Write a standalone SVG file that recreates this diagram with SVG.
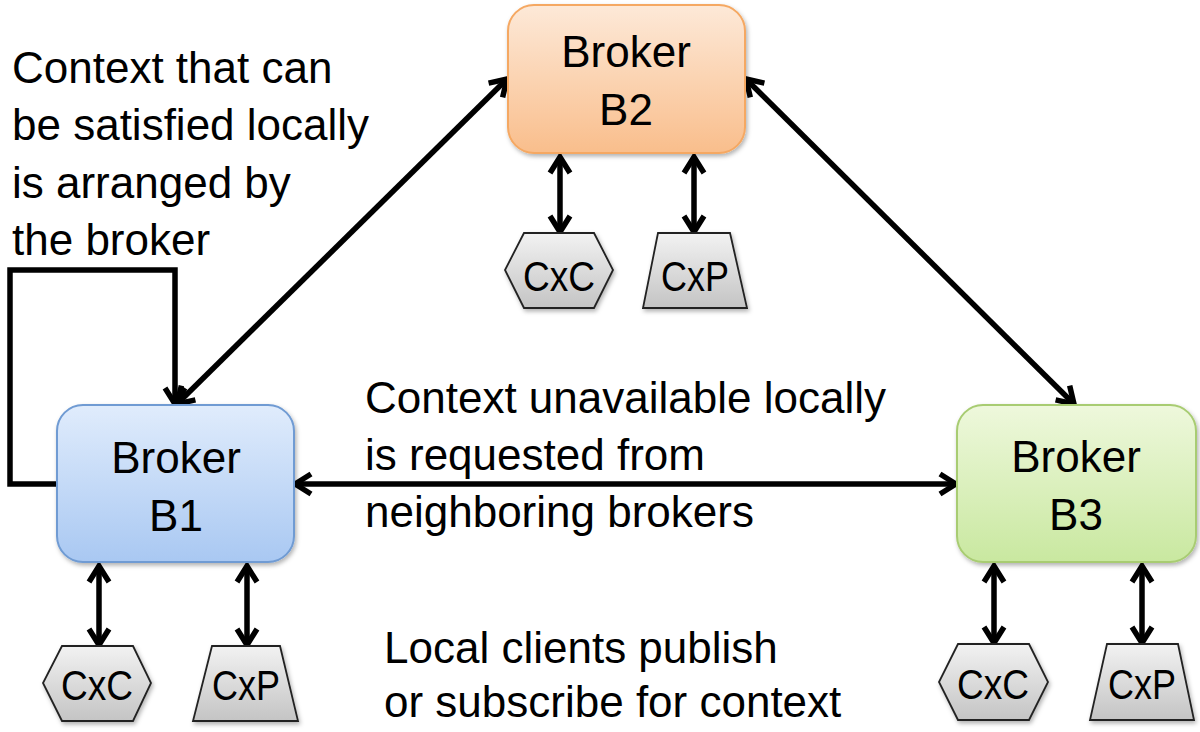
<svg xmlns="http://www.w3.org/2000/svg" width="1200" height="732" viewBox="0 0 1200 732">
<style>
  text { font-family: "Liberation Sans", Arial, sans-serif; fill: #000; }
  .lbl { font-size: 44px; }
  .bk { font-size: 44px; text-anchor: middle; }
  .cl { font-size: 42px; text-anchor: middle; }
  .conn { fill: none; stroke: #000; stroke-width: 5.5; }
  .client { fill: url(#gGray); stroke: #222; stroke-width: 1.8; stroke-linejoin: miter; }
</style>
<defs>
  <marker id="arr" viewBox="0 0 26 26" markerWidth="26" markerHeight="26" refX="21" refY="13" orient="auto-start-reverse" markerUnits="userSpaceOnUse">
    <path d="M5,3 L21,13 L5,23" fill="none" stroke="#000" stroke-width="5.5" stroke-linejoin="miter"/>
  </marker>
  <linearGradient id="gBlue" x1="0" y1="0" x2="0" y2="1">
    <stop offset="0" stop-color="#e0ecfc"/>
    <stop offset="1" stop-color="#a9c8f2"/>
  </linearGradient>
  <linearGradient id="gOrange" x1="0" y1="0" x2="0" y2="1">
    <stop offset="0" stop-color="#fde9d8"/>
    <stop offset="1" stop-color="#f9be8c"/>
  </linearGradient>
  <linearGradient id="gGreen" x1="0" y1="0" x2="0" y2="1">
    <stop offset="0" stop-color="#eef8dc"/>
    <stop offset="1" stop-color="#c9e8a0"/>
  </linearGradient>
  <linearGradient id="gGray" x1="0" y1="0" x2="0" y2="1">
    <stop offset="0" stop-color="#f2f2f2"/>
    <stop offset="1" stop-color="#c4c4c4"/>
  </linearGradient>
  <filter id="sh" x="-10%" y="-10%" width="130%" height="130%">
    <feDropShadow dx="1.5" dy="2.5" stdDeviation="2" flood-color="#000" flood-opacity="0.3"/>
  </filter>
</defs>
<rect width="1200" height="732" fill="#fff"/>

<g id="connectors">
  <line class="conn" x1="177" y1="404" x2="507" y2="79" marker-start="url(#arr)" marker-end="url(#arr)"/>
  <line class="conn" x1="746" y1="79" x2="1074" y2="404" marker-start="url(#arr)" marker-end="url(#arr)"/>
  <line class="conn" x1="295" y1="484" x2="956" y2="484" marker-start="url(#arr)" marker-end="url(#arr)"/>
  <path class="conn" d="M57,484 H10 V270 H175 V404" marker-end="url(#arr)"/>
  <line class="conn" x1="99" y1="566" x2="99" y2="645" marker-start="url(#arr)" marker-end="url(#arr)"/>
  <line class="conn" x1="247" y1="566" x2="247" y2="645" marker-start="url(#arr)" marker-end="url(#arr)"/>
  <line class="conn" x1="560" y1="157" x2="560" y2="232" marker-start="url(#arr)" marker-end="url(#arr)"/>
  <line class="conn" x1="694" y1="157" x2="694" y2="232" marker-start="url(#arr)" marker-end="url(#arr)"/>
  <line class="conn" x1="994" y1="566" x2="994" y2="643" marker-start="url(#arr)" marker-end="url(#arr)"/>
  <line class="conn" x1="1142" y1="566" x2="1142" y2="643" marker-start="url(#arr)" marker-end="url(#arr)"/>
</g>

<g id="broker-b1">
  <rect x="57" y="405" width="237" height="157" rx="26" fill="url(#gBlue)" stroke="#6f9bd3" stroke-width="2" filter="url(#sh)"/>
  <text class="bk" x="176" y="473">Broker</text>
  <text class="bk" x="176" y="531">B1</text>
</g>
<g id="broker-b2">
  <rect x="508" y="5" width="237" height="148" rx="26" fill="url(#gOrange)" stroke="#f5a862" stroke-width="2" filter="url(#sh)"/>
  <text class="bk" x="626" y="67">Broker</text>
  <text class="bk" x="626" y="125">B2</text>
</g>
<g id="broker-b3">
  <rect x="957" y="405" width="239" height="157" rx="26" fill="url(#gGreen)" stroke="#a8cc72" stroke-width="2" filter="url(#sh)"/>
  <text class="bk" x="1076" y="472">Broker</text>
  <text class="bk" x="1076" y="530">B3</text>
</g>

<g id="cxc-b1">
  <polygon class="client" points="62,646 133,646 151,683 133,721 62,721 43,683" filter="url(#sh)"/>
  <text class="cl" x="97" y="700" textLength="72" lengthAdjust="spacingAndGlyphs">CxC</text>
</g>
<g id="cxp-b1">
  <polygon class="client" points="212,646 280,646 298,721 193,721" filter="url(#sh)"/>
  <text class="cl" x="246" y="700" textLength="68" lengthAdjust="spacingAndGlyphs">CxP</text>
</g>
<g id="cxc-b2">
  <polygon class="client" points="524,233 594,233 613,270 594,308 524,308 505,270" filter="url(#sh)"/>
  <text class="cl" x="559" y="291" textLength="72" lengthAdjust="spacingAndGlyphs">CxC</text>
</g>
<g id="cxp-b2">
  <polygon class="client" points="658,233 730,233 747,308 643,308" filter="url(#sh)"/>
  <text class="cl" x="695" y="291" textLength="68" lengthAdjust="spacingAndGlyphs">CxP</text>
</g>
<g id="cxc-b3">
  <polygon class="client" points="958,644 1029,644 1048,682 1029,720 958,720 939,682" filter="url(#sh)"/>
  <text class="cl" x="993" y="699" textLength="72" lengthAdjust="spacingAndGlyphs">CxC</text>
</g>
<g id="cxp-b3">
  <polygon class="client" points="1107,644 1178,644 1194,720 1090,720" filter="url(#sh)"/>
  <text class="cl" x="1142" y="699" textLength="68" lengthAdjust="spacingAndGlyphs">CxP</text>
</g>

<g id="label-local">
  <text class="lbl" x="12" y="83">Context that can</text>
  <text class="lbl" x="12" y="140">be satisfied locally</text>
  <text class="lbl" x="12" y="198">is arranged by</text>
  <text class="lbl" x="12" y="255">the broker</text>
</g>
<g id="label-neighbors">
  <text class="lbl" x="365" y="413">Context unavailable locally</text>
  <text class="lbl" x="365" y="470">is requested from</text>
  <text class="lbl" x="365" y="527">neighboring brokers</text>
</g>
<g id="label-clients">
  <text class="lbl" x="384" y="663">Local clients publish</text>
  <text class="lbl" x="384" y="717">or subscribe for context</text>
</g>
</svg>
